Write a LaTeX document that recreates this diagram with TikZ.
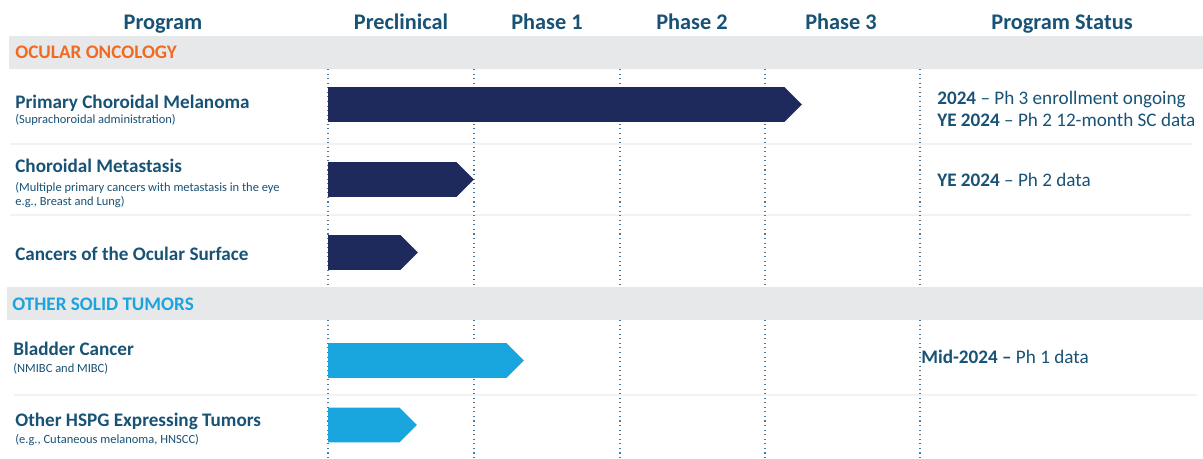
\documentclass[tikz,border=0pt]{standalone}
\usepackage{fontspec}
\setmainfont{Carlito}
\usepackage{tikz}
\usetikzlibrary{positioning,shapes.symbols}
\definecolor{headteal}{RGB}{24,82,117}
\definecolor{navybar}{RGB}{31,42,92}
\definecolor{skybar}{RGB}{25,166,222}
\definecolor{ocularorange}{RGB}{242,106,34}
\definecolor{solidblue}{RGB}{27,164,222}
\definecolor{bandgray}{RGB}{231,232,234}
\definecolor{rulegray}{RGB}{242,242,242}
\definecolor{gridblue}{RGB}{72,122,160}

\begin{document}
\begin{tikzpicture}[
  x=0.02cm, y=-0.02cm,
  header/.style={font=\fontsize{12.7}{14}\selectfont\bfseries, text=headteal, anchor=base, inner sep=0},
  section/.style={font=\fontsize{10.9}{13}\selectfont\bfseries, anchor=base west, inner sep=0},
  prog/.style={font=\fontsize{10.9}{13}\selectfont\bfseries, text=headteal, anchor=base west, inner sep=0},
  progsub/.style={font=\fontsize{7.1}{8.5}\selectfont, text=headteal, anchor=base west, inner sep=0, align=left},
  status/.style={font=\fontsize{10.9}{13}\selectfont, text=headteal, anchor=base west, inner sep=0, align=left},
  bar/.style={signal, signal to=east, anchor=west, minimum height=0.7cm, inner sep=0, outer sep=0, draw=none},
  ocular/.style={bar, fill=navybar},
  solid/.style={bar, fill=skybar},
  rowrule/.style={draw=rulegray, line width=1.2pt},
  phasegrid/.style={draw=gridblue, dotted, line width=0.6pt}
]
\useasboundingbox (0,0) rectangle (1203,459);

% section bands
\fill[bandgray] (9,36) rectangle (1203,69);
\fill[bandgray] (7,287) rectangle (1203,320);

% row rules
\draw[rowrule] (10,144) -- (1192,144);
\draw[rowrule] (10,215) -- (1191,215);
\draw[rowrule] (14,395) -- (1197,395);

% phase boundaries
\foreach \gx in {328,474,620,765,920} {
  \draw[phasegrid] (\gx,69) -- (\gx,287);
  \draw[phasegrid] (\gx,320) -- (\gx,459);
}

% column headers
\node[header] (hProg) at (163,30) {Program};
\node[header] (hPre) at (401,30) {Preclinical};
\node[header] (hPh1) at (547,30) {Phase 1};
\node[header] (hPh2) at (692,30) {Phase 2};
\node[header] (hPh3) at (841,30) {Phase 3};
\node[header] (hStat) at (1062,30) {Program Status};

% ocular oncology
\node[section, text=ocularorange] (secOcular) at (15,59) {OCULAR ONCOLOGY};

\node[prog] (pcm) at (15,109) {Primary Choroidal Melanoma};
\node[progsub] (pcmSub) at (15,124) {(Suprachoroidal administration)};
\node[ocular, minimum width=9.48cm] (pcmBar) at (328,104.5) {};
% two-line status: anchored on its last line
\node[status] (pcmStat) at (937,127) {\textbf{2024} -- Ph 3 enrollment ongoing\\\textbf{YE 2024} -- Ph 2 12-month SC data};

\node[prog] (cmet) at (15,173) {Choroidal Metastasis};
\node[progsub] (cmetSub) at (15,206) {(Multiple primary cancers with metastasis in the eye\\e.g., Breast and Lung)};
\node[ocular, minimum width=2.92cm] (cmetBar) at (328,179.5) {};
\node[status] (cmetStat) at (937,187) {\textbf{YE 2024} -- Ph 2 data};

\node[prog] (cos) at (15,260) {Cancers of the Ocular Surface};
\node[ocular, minimum width=1.8cm] (cosBar) at (328,252.5) {};

% other solid tumors
\node[section, text=solidblue] (secSolid) at (12,310) {OTHER SOLID TUMORS};

\node[prog] (blad) at (13,355) {Bladder Cancer};
\node[progsub] (bladSub) at (13,372) {(NMIBC and MIBC)};
\node[solid, minimum width=3.92cm] (bladBar) at (328,360.5) {};
\node[status] (bladStat) at (921,363) {\textbf{Mid-2024 --} Ph 1 data};

\node[prog] (hspg) at (15,426) {Other HSPG Expressing Tumors};
\node[progsub] (hspgSub) at (15,443) {(e.g., Cutaneous melanoma, HNSCC)};
\node[solid, minimum width=1.78cm] (hspgBar) at (328,425) {};
\end{tikzpicture}
\end{document}
